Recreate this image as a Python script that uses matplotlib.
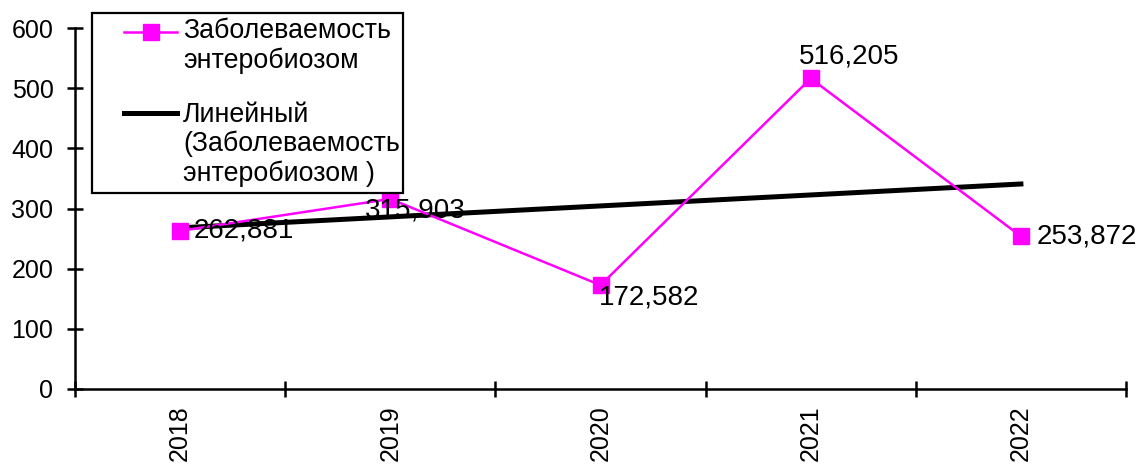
import matplotlib
matplotlib.use("Agg")
import matplotlib.pyplot as plt
from matplotlib.lines import Line2D
from matplotlib.patches import Rectangle
import numpy as np

years = ["2018", "2019", "2020", "2021", "2022"]
values = [262.881, 315.903, 172.582, 516.205, 253.872]
labels = ["262,881", "315,903", "172,582", "516,205", "253,872"]
series_name = "Заболеваемость\nэнтеробиозом"
trend_name = "Линейный\n(Заболеваемость\nэнтеробиозом )"

plt.rcParams['font.family'] = ['Liberation Sans', 'DejaVu Sans']

W, H = 1144, 468
fig = plt.figure(figsize=(W/100, H/100), dpi=100)
ax = fig.add_axes([75/W, 1-389/H, (1126-75)/W, (389-28)/H])

def fx(px):
    return px / W

def fy(py):
    return 1 - py / H

x = np.arange(len(years))
magenta = "#FF00FF"
l1, = ax.plot(x, values, color=magenta, lw=1.8, marker='s', markersize=11,
              markeredgecolor=magenta, markerfacecolor=magenta, zorder=3)
coef = np.polyfit(x, values, 1)
trend = np.polyval(coef, x)
l2, = ax.plot(x, trend, color='black', lw=3.6, zorder=2)

offsets = [((9.5, 0), 'left', 'center'),
           ((18, -8), 'center', 'center'),
           ((-1.5, -9), 'left', 'center'),
           ((28, 16), 'center', 'center'),
           ((11.5, 0), 'left', 'center')]
for xi, v, lab, (off, ha, va) in zip(x, values, labels, offsets):
    ax.annotate(lab, (xi, v), xytext=off, textcoords='offset points',
                ha=ha, va=va, fontsize=20, color='black', zorder=4)

ax.set_xlim(-0.5, 4.5)
ax.set_ylim(0, 600)
ax.set_yticks(range(0, 601, 100))
ax.set_xticks(np.arange(-0.5, 4.6, 1.0))
ax.set_xticklabels([])
ax.set_xticks(x, minor=True)
ax.set_xticklabels(years, minor=True, rotation=90)
ax.tick_params(axis='x', which='major', direction='inout', length=11, width=1.8)
ax.tick_params(axis='x', which='minor', length=0, pad=12, labelsize=18)
ax.tick_params(axis='y', direction='inout', length=11, width=1.8, pad=10, labelsize=18)

for s in ['top', 'right']:
    ax.spines[s].set_visible(False)
for s in ['left', 'bottom']:
    ax.spines[s].set_linewidth(1.8)

# legend drawn manually to match the reference layout
box = Rectangle((fx(92), fy(193)), fx(403) - fx(92), fy(13) - fy(193),
                transform=fig.transFigure, facecolor='white', edgecolor='black',
                linewidth=1.6, zorder=5)
fig.patches.append(box)
fig.lines.append(Line2D([fx(124), fx(177)], [fy(31.5), fy(31.5)],
                        transform=fig.transFigure, color=magenta, lw=1.8, zorder=6))
fig.lines.append(Line2D([fx(150.5)], [fy(31.5)], transform=fig.transFigure,
                        color=magenta, marker='s', markersize=11, lw=0, zorder=7))
fig.lines.append(Line2D([fx(124), fx(177)], [fy(113), fy(113)],
                        transform=fig.transFigure, color='black', lw=3.6, zorder=6))
fig.text(fx(183), fy(68), series_name, fontsize=19.3, va='baseline', ha='left',
         linespacing=1.16, zorder=7)
fig.text(fx(183), fy(181), trend_name, fontsize=19.3, va='baseline', ha='left',
         linespacing=1.16, zorder=7)

fig.savefig("out.png", dpi=100)
